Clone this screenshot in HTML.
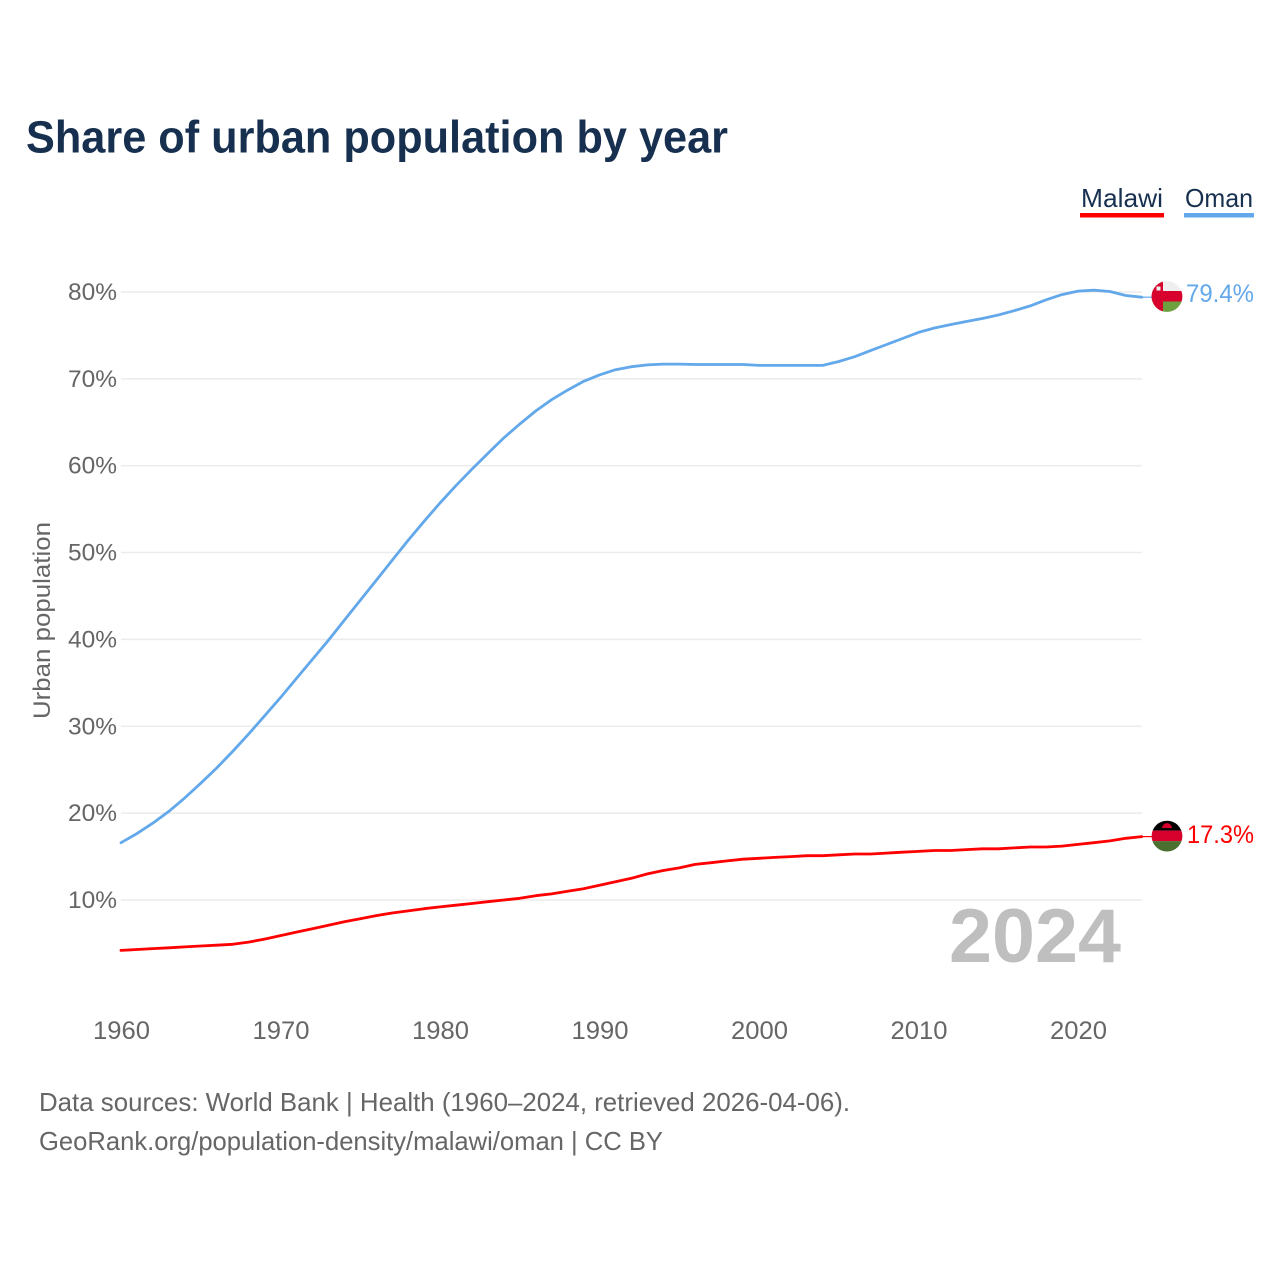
<!DOCTYPE html>
<html lang="en">
<head>
<meta charset="utf-8">
<title>Share of urban population by year</title>
<style>
html,body{margin:0;padding:0;background:#fff;width:1280px;height:1280px;overflow:hidden}
svg{display:block}
text{font-family:"Liberation Sans",sans-serif}
</style>
</head>
<body>
<svg id="chart" xmlns="http://www.w3.org/2000/svg" width="1280" height="1280" viewBox="0 0 1280 1280">
  <defs>
    <clipPath id="flag-clip"><circle cx="0" cy="0" r="15.4"/></clipPath>
  </defs>
  <rect x="0" y="0" width="1280" height="1280" fill="#ffffff"/>
  <text x="26" y="152.5" font-size="45" font-weight="700" fill="#17304f" textLength="702" lengthAdjust="spacingAndGlyphs">Share of urban population by year</text>

  <text x="1081" y="207" font-size="26" fill="#17304f" textLength="82" lengthAdjust="spacingAndGlyphs">Malawi</text>
  <rect x="1080" y="213" width="84" height="4.5" fill="#ff0000"/>
  <text x="1185" y="207" font-size="26" fill="#17304f" textLength="68" lengthAdjust="spacingAndGlyphs">Oman</text>
  <rect x="1184" y="213" width="70" height="4.5" fill="#62a8ea"/>

  <g id="grid"></g>
  <g id="y-ticks"></g>
  <g id="x-ticks"></g>
  <text transform="translate(50,620.5) rotate(-90)" text-anchor="middle" font-size="24" fill="#666666" textLength="197" lengthAdjust="spacingAndGlyphs">Urban population</text>

  <text x="949" y="962" font-size="76" font-weight="700" fill="#bfbfbf" textLength="172" lengthAdjust="spacingAndGlyphs">2024</text>

  <g id="series"></g>

  <g id="flag-oman">
    <g clip-path="url(#flag-clip)">
      <rect x="-16" y="-16" width="32" height="32" fill="#efefef"/>
      <rect x="-16" y="5" width="32" height="11" fill="#6da03f"/>
      <rect x="-16" y="-5.5" width="32" height="10.5" fill="#d8002c"/>
      <rect x="-16" y="-16" width="12" height="32" fill="#d8002c"/>
      <rect x="-10.5" y="-10" width="4" height="4" fill="#efefef"/>
    </g>
  </g>
  <g id="flag-malawi">
    <g clip-path="url(#flag-clip)">
      <rect x="-16" y="-16" width="32" height="10.5" fill="#000000"/>
      <rect x="-16" y="-5.5" width="32" height="10.5" fill="#d8002c"/>
      <rect x="-16" y="5" width="32" height="11" fill="#4b6f2e"/>
      <path d="M-5,-8 A5,5 0 0 1 5,-8 Z" fill="#d8002c"/>
    </g>
  </g>
  <text id="value-oman" x="1186" y="302" font-size="25" fill="#62a8ea" textLength="68" lengthAdjust="spacingAndGlyphs"></text>
  <text id="value-malawi" x="1187" y="843" font-size="25" fill="#ff0000" textLength="67" lengthAdjust="spacingAndGlyphs"></text>

  <text x="39" y="1111" font-size="26" fill="#666666" textLength="811" lengthAdjust="spacingAndGlyphs">Data sources: World Bank | Health (1960–2024, retrieved 2026-04-06).</text>
  <text x="39" y="1150" font-size="26" fill="#666666" textLength="624" lengthAdjust="spacingAndGlyphs">GeoRank.org/population-density/malawi/oman | CC BY</text>
</svg>
<script>
const startYear = 1960;
const xTickLabels = [1960, 1970, 1980, 1990, 2000, 2010, 2020];
const yTickLabels = [10, 20, 30, 40, 50, 60, 70, 80];
const omanValues = [16.6, 17.65, 18.85, 20.2, 21.75, 23.45, 25.2, 27.1, 29.1, 31.2,
  33.3, 35.5, 37.7, 39.9, 42.2, 44.5, 46.8, 49.1, 51.4, 53.6,
  55.7, 57.7, 59.6, 61.4, 63.2, 64.8, 66.3, 67.6, 68.7, 69.7,
  70.45, 71.05, 71.4, 71.6, 71.7, 71.7, 71.65, 71.65, 71.65, 71.65,
  71.55, 71.55, 71.55, 71.55, 71.55, 72.0, 72.55, 73.25, 73.95, 74.65,
  75.35, 75.85, 76.25, 76.6, 76.95, 77.35, 77.85, 78.4, 79.1, 79.7,
  80.1, 80.2, 80.05, 79.6, 79.4];
const malawiValues = [4.2, 4.3, 4.4, 4.5, 4.6, 4.7, 4.8, 4.9, 5.15, 5.5,
  5.9, 6.3, 6.7, 7.1, 7.5, 7.85, 8.2, 8.5, 8.75, 9.0,
  9.2, 9.4, 9.6, 9.8, 10.0, 10.2, 10.5, 10.7, 11.0, 11.3,
  11.7, 12.1, 12.5, 13.0, 13.4, 13.7, 14.1, 14.3, 14.5, 14.7,
  14.8, 14.9, 15.0, 15.1, 15.1, 15.2, 15.3, 15.3, 15.4, 15.5,
  15.6, 15.7, 15.7, 15.8, 15.9, 15.9, 16.0, 16.1, 16.1, 16.2,
  16.4, 16.6, 16.8, 17.1, 17.3];

const SVG_NS = 'http://www.w3.org/2000/svg';
const xScale = year => 121 + (year - 1960) * 15.95;
const yScale = pct => 900 - (pct - 10) * 8.686;
const plotRight = 1142;

function make(tag, attrs, parent) {
  const el = document.createElementNS(SVG_NS, tag);
  for (const k in attrs) el.setAttribute(k, attrs[k]);
  parent.appendChild(el);
  return el;
}

const grid = document.getElementById('grid');
const yTicks = document.getElementById('y-ticks');
yTickLabels.forEach(v => {
  const line = make('line', {x1: xScale(startYear), x2: plotRight, y1: yScale(v), y2: yScale(v), stroke: '#ececec', 'stroke-width': 1.5}, grid);
  
  
  const t = make('text', {x: 117, y: yScale(v) + 8, 'text-anchor': 'end', 'font-size': 24, fill: '#666666', textLength: 49, lengthAdjust: 'spacingAndGlyphs'}, yTicks);
  
  
  t.textContent = v + '%';
});

const xTicks = document.getElementById('x-ticks');
xTickLabels.forEach(y => {
  const t = make('text', {x: xScale(y) + 0.5, y: 1039, 'text-anchor': 'middle', 'font-size': 25, fill: '#666666', textLength: 57, lengthAdjust: 'spacingAndGlyphs'}, xTicks);
  
  
  t.textContent = y;
});

const seriesGroup = document.getElementById('series');
function drawSeries(values, color, seriesName) {
  const pts = values.map((v, i) => xScale(startYear + i).toFixed(1) + ',' + yScale(v).toFixed(1));
  const line = make('polyline', {points: pts.join(' '), fill: 'none', stroke: color, 'stroke-width': 2.8, 'stroke-linejoin': 'round', 'stroke-linecap': 'round'}, seriesGroup);
  
  
  const lastX = xScale(startYear + values.length - 1);
  const lastY = yScale(values[values.length - 1]);
  const lead = make('line', {x1: lastX, x2: lastX + 12, y1: lastY, y2: lastY, stroke: color, 'stroke-width': 1.2}, seriesGroup);
  
  
}
drawSeries(malawiValues, '#ff0000', 'line-malawi');
drawSeries(omanValues, '#62a8ea', 'line-oman');

const lastOman = omanValues[omanValues.length - 1];
const lastMalawi = malawiValues[malawiValues.length - 1];
document.getElementById('flag-oman').setAttribute('transform', 'translate(1167,' + (yScale(lastOman) - 0.7).toFixed(1) + ')');
document.getElementById('flag-malawi').setAttribute('transform', 'translate(1167,' + (yScale(lastMalawi) - 0.5).toFixed(1) + ')');
const vo = document.getElementById('value-oman');
vo.textContent = lastOman.toFixed(1) + '%';
vo.setAttribute('y', (yScale(lastOman) + 5).toFixed(1));
const vm = document.getElementById('value-malawi');
vm.textContent = lastMalawi.toFixed(1) + '%';
vm.setAttribute('y', (yScale(lastMalawi) + 6.3).toFixed(1));
</script>
</body>
</html>
